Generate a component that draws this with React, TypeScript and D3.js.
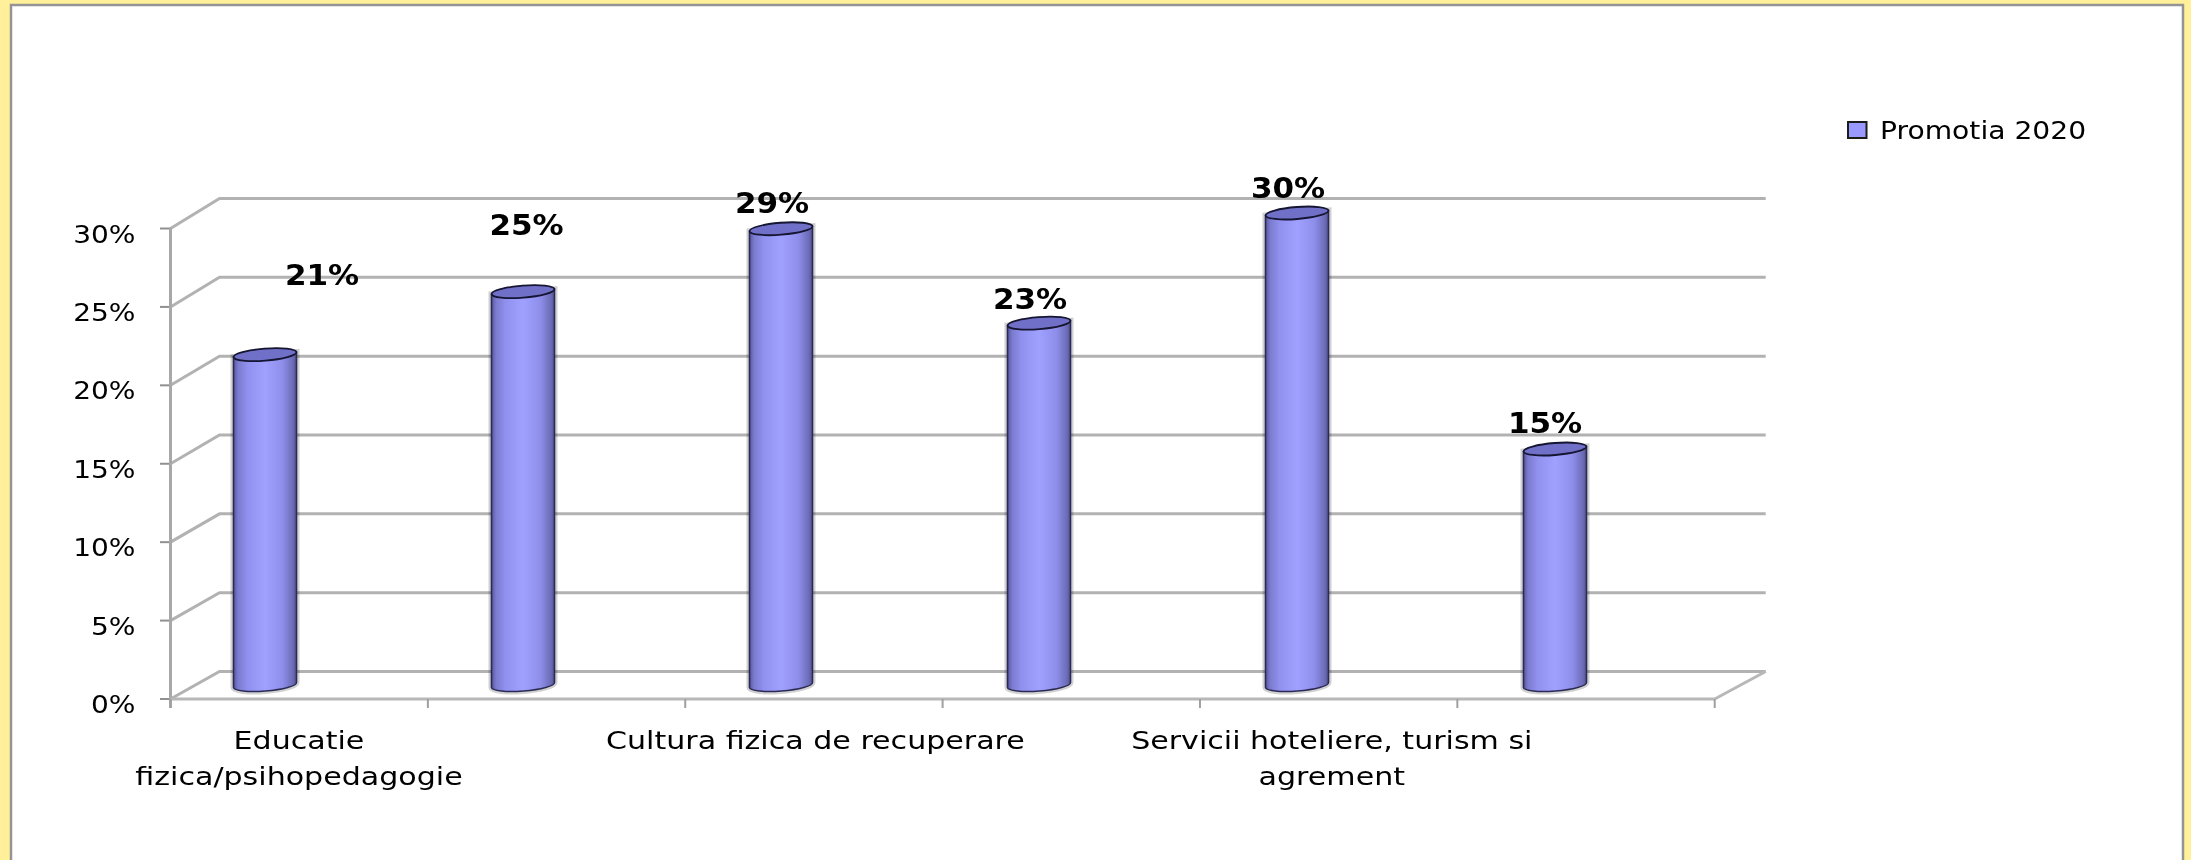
import React from "react";
import * as d3 from "d3";

const categories = [
  ["Educatie", "fizica/psihopedagogie"],
  [],
  ["Cultura fizica de recuperare"],
  [],
  ["Servicii hoteliere, turism si", "agrement"],
  [],
];
const values = [21, 25, 29, 23, 30, 15];
const yTicks = [0, 5, 10, 15, 20, 25, 30];
const seriesName = "Promotia 2020";

const W = 2191, H = 860;
const FONT = "'DejaVu Sans', Verdana, sans-serif";
const xFront = d3.scaleBand<number>().domain(d3.range(6)).range([170.5, 1714.7]);
const xBar = d3.scalePoint<number>().domain(d3.range(6)).range([265, 1555]);
const xCat = d3.scalePoint<number>().domain(d3.range(6)).range([299, 1590]);
const yFront = d3.scaleLinear().domain([0, 30]).range([699, 228.5]);
const yBack = d3.scaleLinear().domain([0, 30]).range([671.5, 198.5]);
const yBar = d3.scaleLinear().domain([0, 30]).range([685, 213]);
const depth = 51;
const rx = 31.5, ry = 6, tilt = -4.5;
const nudges = [[57, -70], [3.5, -57], [-9, -16], [-9, -14], [-9, -15], [-10, -16]];

function T({ x, y, size, bold, anchor = "middle", sx = 1.1, children }: any) {
  return (
    <text transform={`translate(${x},${y}) scale(${sx},1)`} textAnchor={anchor} fontFamily={FONT}
      fontSize={size} fontWeight={bold ? 700 : 400} fill="#000">{children}</text>
  );
}

export default function App() {
  const fullRange = xFront.range();
  return (
    <svg width={W} height={H} style={{ position: "absolute", left: 0, top: 0, display: "block" }}>
      <defs>
        <linearGradient id="cyl" x1="0" x2="1" y1="0" y2="0">
          <stop offset="0" stopColor="#55559a" />
          <stop offset="0.07" stopColor="#7a7ace" />
          <stop offset="0.22" stopColor="#9090ee" />
          <stop offset="0.5" stopColor="#a0a0ff" />
          <stop offset="0.78" stopColor="#8e8eea" />
          <stop offset="0.94" stopColor="#6c6cb8" />
          <stop offset="1" stopColor="#555590" />
        </linearGradient>
        <filter id="soft" x="-5%" y="-5%" width="110%" height="110%"><feGaussianBlur stdDeviation="0.7" /></filter>
      </defs>
      <rect width={W} height={H} fill="#FFF099" />
      <rect x={11} y={5} width={2172} height={H} fill="#fff" stroke="#949494" strokeWidth={2.5} />

      <g filter="url(#soft)">
        {yTicks.map((t) => (
          <g key={t} stroke="#b2b2b2" fill="none">
            <polyline points={`${fullRange[0]},${yFront(t)} ${fullRange[0] + depth - 2},${yBack(t)} ${fullRange[1] + depth},${yBack(t)}`} strokeWidth={3} />
            <line x1={160} x2={fullRange[0]} y1={yFront(t)} y2={yFront(t)} stroke="#909090" strokeWidth={2} />
          </g>
        ))}
        <line x1={fullRange[0]} x2={fullRange[0]} y1={yFront(30)} y2={yFront(0) + 9} stroke="#a8a8a8" strokeWidth={3} />
        <line x1={fullRange[0]} x2={fullRange[1]} y1={yFront(0)} y2={yFront(0)} stroke="#b8b8b8" strokeWidth={3} />
        <line x1={fullRange[1]} x2={fullRange[1] + depth} y1={yFront(0)} y2={yBack(0)} stroke="#b8b8b8" strokeWidth={3} />
        {d3.range(7).map((i) => {
          const x = fullRange[0] + i * xFront.bandwidth();
          return <line key={i} x1={x} x2={x} y1={yFront(0)} y2={yFront(0) + 9} stroke="#a0a0a0" strokeWidth={2} />;
        })}

        {values.map((v, i) => {
          const cx = xBar(i) as number;
          const top = yBar(v), base = yBar(0);
          const d = `M${cx - rx},${top + 2.5} L${cx - rx},${base + 2.5} A${rx},${ry} ${tilt} 0 0 ${cx + rx},${base - 2.5} L${cx + rx},${top - 2.5} Z`;
          return (
            <g key={i}>
              <path d={d} fill="none" stroke="#000" strokeWidth={6} opacity={0.18} />
              <path d={d} fill="url(#cyl)" stroke="#2c2c55" strokeWidth={1.6} />
              <ellipse cx={cx} cy={top} rx={rx} ry={ry} transform={`rotate(${tilt} ${cx} ${top})`}
                fill="#7070c8" stroke="#141430" strokeWidth={1.8} />
            </g>
          );
        })}
      </g>

      <g filter="url(#soft)">
        {yTicks.map((t) => (
          <T key={t} x={135.5} y={yFront(t) + 14} size={25.5} anchor="end">{t}%</T>
        ))}
        {values.map((v, i) => (
          <T key={i} x={(xBar(i) as number) + nudges[i][0]} y={yBar(v) + nudges[i][1]} size={29} bold sx={1.07}>{v}%</T>
        ))}
        {categories.map((lines, i) =>
          lines.map((l, j) => (
            <T key={`${i}-${j}`} x={xCat(i) as number} y={749 + j * 36} size={25.5} sx={1.18}>{l}</T>
          ))
        )}
        <rect x={1848} y={122} width={18.5} height={16} fill="#9999ff" stroke="#1a1a1a" strokeWidth={2} />
        <T x={1880} y={139} size={24.5} anchor="start" sx={1.15}>{seriesName}</T>
      </g>
    </svg>
  );
}
